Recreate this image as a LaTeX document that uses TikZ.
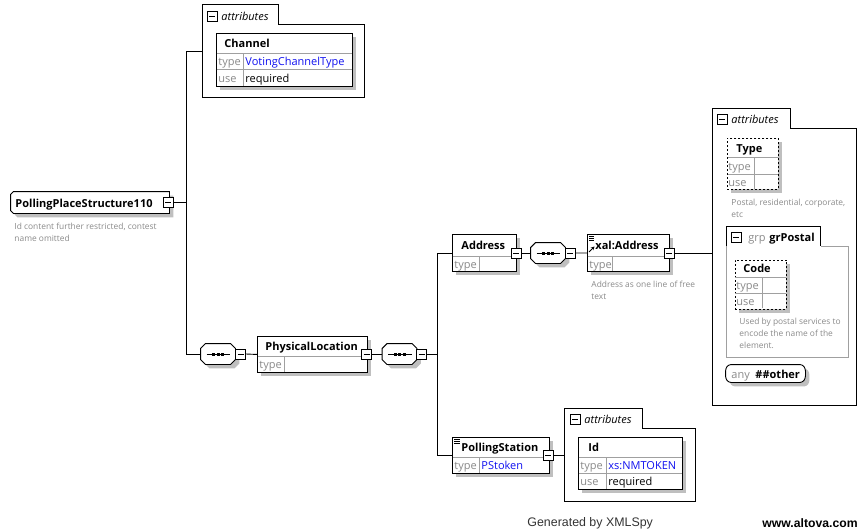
\documentclass[tikz,border=0pt]{standalone}
\usepackage{fontspec}
\setmainfont{Open Sans}
\newfontfamily\footfont{Liberation Sans}
\usetikzlibrary{shadows,arrows.meta}
\definecolor{lgray}{HTML}{A0A0A0}
\definecolor{tgray}{HTML}{8A8A8A}
\definecolor{xblue}{HTML}{1010F0}

\tikzset{
  boxshadow/.style={drop shadow={fill=black!25,opacity=1,shadow xshift=4pt,shadow yshift=-4pt}},
  elem/.style={draw,fill=white,anchor=north west,inner sep=0pt,boxshadow},
  dashelem/.style={elem,dash pattern=on 2pt off 2pt},
  minus/.style={draw,fill=white,minimum size=10pt,inner sep=0pt,line width=0.8pt,
    path picture={\draw ([xshift=2pt]path picture bounding box.west) -- ([xshift=-2pt]path picture bounding box.east);}},
  seq/.style={inner sep=0pt,minimum width=34pt,minimum height=20pt},
  grpbox/.style={anchor=north west,inner sep=0pt},
  tabbox/.style={anchor=south west,inner sep=0pt,minimum height=19pt},
  txt/.style={anchor=west,inner sep=0pt,text height=9pt,text depth=0pt,font=\fontsize{11}{13}\selectfont},
  hd/.style={txt,font=\fontsize{11}{13}\selectfont\bfseries},
  lbl/.style={txt,text=tgray},
  val/.style={txt,text=xblue},
  tabtxt/.style={txt,font=\fontsize{11}{13}\selectfont\itshape},
  doc/.style={anchor=north west,inner sep=0pt,align=left,text=tgray,font=\fontsize{8.4}{12}\selectfont},
  inner/.style={draw=lgray},
}

\begin{document}
\begin{tikzpicture}[x=1pt,y=-1pt,line width=0.9pt]
\useasboundingbox (0,0) rectangle (867,531);

% outline-only nodes
\node[inner sep=0pt,minimum width=158pt,minimum height=21pt] (root) at (90,202.5) {};
\node[seq] (seq1) at (218,354) {};
\node[seq] (seq2) at (399.5,354) {};
\node[seq] (seq3) at (548,253) {};
\node[inner sep=0pt,minimum width=79pt,minimum height=17pt] (any) at (765.5,373.5) {};

\draw[fill=white,boxshadow] ([xshift=3pt]root.north west) -- (root.north east) -- (root.south east)
  -- ([xshift=3pt]root.south west) -- ([yshift=3pt]root.south west) -- ([yshift=-3pt]root.north west) -- cycle;
\foreach \n/\c in {seq1/5,seq2/5,seq3/5}
  \draw[fill=white,boxshadow] ([xshift=\c pt]\n.north west) -- ([xshift=-\c pt]\n.north east)
    -- ([yshift=-\c pt]\n.north east) -- ([yshift=\c pt]\n.south east) -- ([xshift=-\c pt]\n.south east)
    -- ([xshift=\c pt]\n.south west) -- ([yshift=\c pt]\n.south west) -- ([yshift=-\c pt]\n.north west) -- cycle;
\draw[fill=white,boxshadow,rounded corners=2.5pt] ([xshift=3pt]any.north west) -- ([xshift=-3pt]any.north east)
  -- ([yshift=-4pt]any.north east) -- ([yshift=4pt]any.south east) -- ([xshift=-3pt]any.south east)
  -- ([xshift=3pt]any.south west) -- ([yshift=4pt]any.south west) -- ([yshift=-4pt]any.north west) -- cycle;
\foreach \n in {seq1,seq2,seq3}{
  \draw ([xshift=6pt]\n.west) -- ([xshift=-5pt]\n.east);
  \foreach \d in {-4.5,0,4.5} \fill ([xshift=\d pt]\n.center) +(-1.5,-1.5) rectangle +(1.5,1.5);
}

% root element
\node[hd] (rooth) at (15,202.5) {PollingPlaceStructure110};
\node[minus] (rootm) at (168,202.5) {};
\node[doc] (rootdoc) at (14,223) {Id content further restricted, contest\\name omitted};

% attributes of the root
\node[grpbox,minimum width=162pt,minimum height=73pt] (ag1) at (202,24) {};
\node[tabbox,minimum width=76pt] (ag1t) at (ag1.north west) {};
\draw (ag1.south west) -- (ag1t.north west) -- (ag1t.north east) -- (ag1t.south east)
  -- (ag1.north east) -- (ag1.south east) -- cycle;
\node[minus,line width=0.9pt] (ag1m) at (212,16) {};
\node[tabtxt] (ag1l) at (221,16) {attributes};

\node[elem,minimum width=136pt,minimum height=53pt] (chan) at (216,33) {};
\draw[inner] (216.5,53) -- (351.5,53) (216.5,69) -- (351.5,69) (243,53) -- (243,85.5);
\node[hd] (chanh) at (224,43) {Channel};
\node[lbl] (chant) at (218,61) {type};
\node[val] (chantv) at (245,61) {VotingChannelType};
\node[lbl] (chanu) at (218,77.5) {use};
\node[txt] (chanuv) at (245,77.5) {required};

% first sequence
\node[minus] (seq1m) at (240.7,354) {};

\node[elem,minimum width=110pt,minimum height=36pt] (pl) at (257,336) {};
\draw[inner] (257.5,356) -- (366.5,356) (284,356) -- (284,371.5);
\node[hd] (plh) at (265,346) {PhysicalLocation};
\node[lbl] (plt) at (259,364) {type};
\node[minus] (plm) at (366.7,354) {};

\node[minus] (seq2m) at (421.7,354) {};

% Address
\node[elem,minimum width=64pt,minimum height=37pt] (addr) at (452,234) {};
\draw[inner] (452.5,256) -- (515.5,256) (479,256) -- (479,270.5);
\node[hd] (addrh) at (461,245) {Address};
\node[lbl] (addrt) at (454,263.5) {type};
\node[minus] (addrm) at (516,253) {};

\node[minus] (seq3m) at (570,253) {};

\node[elem,minimum width=82pt,minimum height=37pt] (xal) at (587,234) {};
\draw[inner] (587.5,256) -- (668.5,256) (612.7,256) -- (612.7,270.5);
\foreach \yy in {0,2,4} \draw[line width=0.7pt] (589,236.5+\yy) -- (594,236.5+\yy);
\draw[line width=1pt,-{Stealth[length=3.5pt,width=3.5pt]}] (589,252) -- (594.5,246.5);
\node[hd] (xalh) at (595,245) {xal:Address};
\node[lbl] (xalt) at (589,263.5) {type};
\node[minus] (xalm) at (669.3,253) {};
\node[doc] (xaldoc) at (591,281) {Address as one line of free\\text};

% attributes of xal:Address
\node[grpbox,minimum width=143.5pt,minimum height=276.5pt] (ag2) at (712.5,128.5) {};
\node[tabbox,minimum width=77pt] (ag2t) at (ag2.north west) {};
\draw (ag2.south west) -- (ag2t.north west) -- (ag2t.north east) -- (ag2t.south east)
  -- (ag2.north east) -- (ag2.south east) -- cycle;
\node[minus,line width=0.9pt] (ag2m) at (722,119) {};
\node[tabtxt] (ag2l) at (731,119) {attributes};

\node[dashelem,minimum width=51pt,minimum height=51pt] (typ) at (727,138) {};
\draw[inner] (727.5,157) -- (777.5,157) (727.5,174) -- (777.5,174) (754,157) -- (754,188.5);
\node[hd] (typh) at (736,147.5) {Type};
\node[lbl] (typt) at (728,165.5) {type};
\node[lbl] (typu) at (728,181.5) {use};
\node[doc] (typdoc) at (731,199) {Postal, residential, corporate,\\etc};

\node[grpbox,minimum width=122pt,minimum height=111pt] (gp) at (726,246) {};
\node[tabbox,minimum width=94pt] (gpt) at (gp.north west) {};
\draw[draw=lgray] (gpt.south east) -- (gp.north east) -- (gp.south east) -- (gp.south west) -- (gp.north west);
\draw (gp.north west) -- (gpt.north west) -- (gpt.north east) -- (gpt.south east);
\node[minus,line width=0.9pt] (gpm) at (736,237) {};
\node[lbl] (gpk) at (748,237) {grp};
\node[hd] (gph) at (769,237) {grPostal};

\node[dashelem,minimum width=51.5pt,minimum height=49pt] (code) at (734.5,259.5) {};
\draw[inner] (735,277) -- (785.5,277) (735,293) -- (785.5,293) (762.5,277) -- (762.5,308);
\node[hd] (codeh) at (743,268) {Code};
\node[lbl] (codet) at (736,285) {type};
\node[lbl] (codeu) at (736,300.5) {use};
\node[doc] (codedoc) at (739,318) {Used by postal services to\\encode the name of the\\element.};

\node[lbl] (anyk) at (731,373.5) {any};
\node[hd] (anyh) at (755,373.5) {\#\#other};

% PollingStation
\node[elem,minimum width=96.5pt,minimum height=36pt] (ps) at (452,437) {};
\draw[inner] (452.5,457) -- (548,457) (479,457) -- (479,472.5);
\foreach \yy in {0,2,4} \draw[line width=0.7pt] (454,439+\yy) -- (460,439+\yy);
\node[hd] (psh) at (461,447) {PollingStation};
\node[lbl] (pst) at (454,465) {type};
\node[val] (pstv) at (481,465) {PStoken};
\node[minus] (psm) at (548.3,455) {};

\node[grpbox,minimum width=130pt,minimum height=72pt] (ag3) at (564.5,428.3) {};
\node[tabbox,minimum width=77pt] (ag3t) at (ag3.north west) {};
\draw (ag3.south west) -- (ag3t.north west) -- (ag3t.north east) -- (ag3t.south east)
  -- (ag3.north east) -- (ag3.south east) -- cycle;
\node[minus,line width=0.9pt] (ag3m) at (575,419) {};
\node[tabtxt] (ag3l) at (584,419) {attributes};

\node[elem,minimum width=104pt,minimum height=52pt] (id) at (578,437) {};
\draw[inner] (578.5,457) -- (681.5,457) (578.5,473) -- (681.5,473) (606,457) -- (606,488.5);
\node[hd] (idh) at (588,447) {Id};
\node[lbl] (idt) at (580,465) {type};
\node[val] (idtv) at (608,465) {xs:NMTOKEN};
\node[lbl] (idu) at (580,481) {use};
\node[txt] (iduv) at (608,481) {required};

% connectors
\coordinate (jroot) at (186,202.5);
\coordinate (jpl) at (437,354);
\draw (rootm.east) -- (jroot);
\draw (jroot) |- ([yshift=-27pt]ag1.north west);
\draw (jroot) |- (seq1.west);
\draw (seq1m.east) -- (pl.west);
\draw (plm.east) -- (seq2.west);
\draw (seq2m.east) -- (jpl);
\draw (jpl) |- (addr.west);
\draw (jpl) |- (ps.west);
\draw (addrm.east) -- (seq3.west);
\draw (seq3m.east) -- (xal.west);
\draw (xalm.east) -- (xalm.east -| ag2.west);
\draw (psm.east) -- (psm.east -| ag3.west);

% footer
\node[anchor=west,inner sep=0pt,text=black!80,font=\footfont\fontsize{12.4}{14}\selectfont] (gen) at (527,523) {Generated by XMLSpy};
\node[anchor=west,inner sep=0pt,font=\footfont\fontsize{12.2}{14}\selectfont\bfseries] (web) at (762,523) {www.altova.com};
\end{tikzpicture}
\end{document}
